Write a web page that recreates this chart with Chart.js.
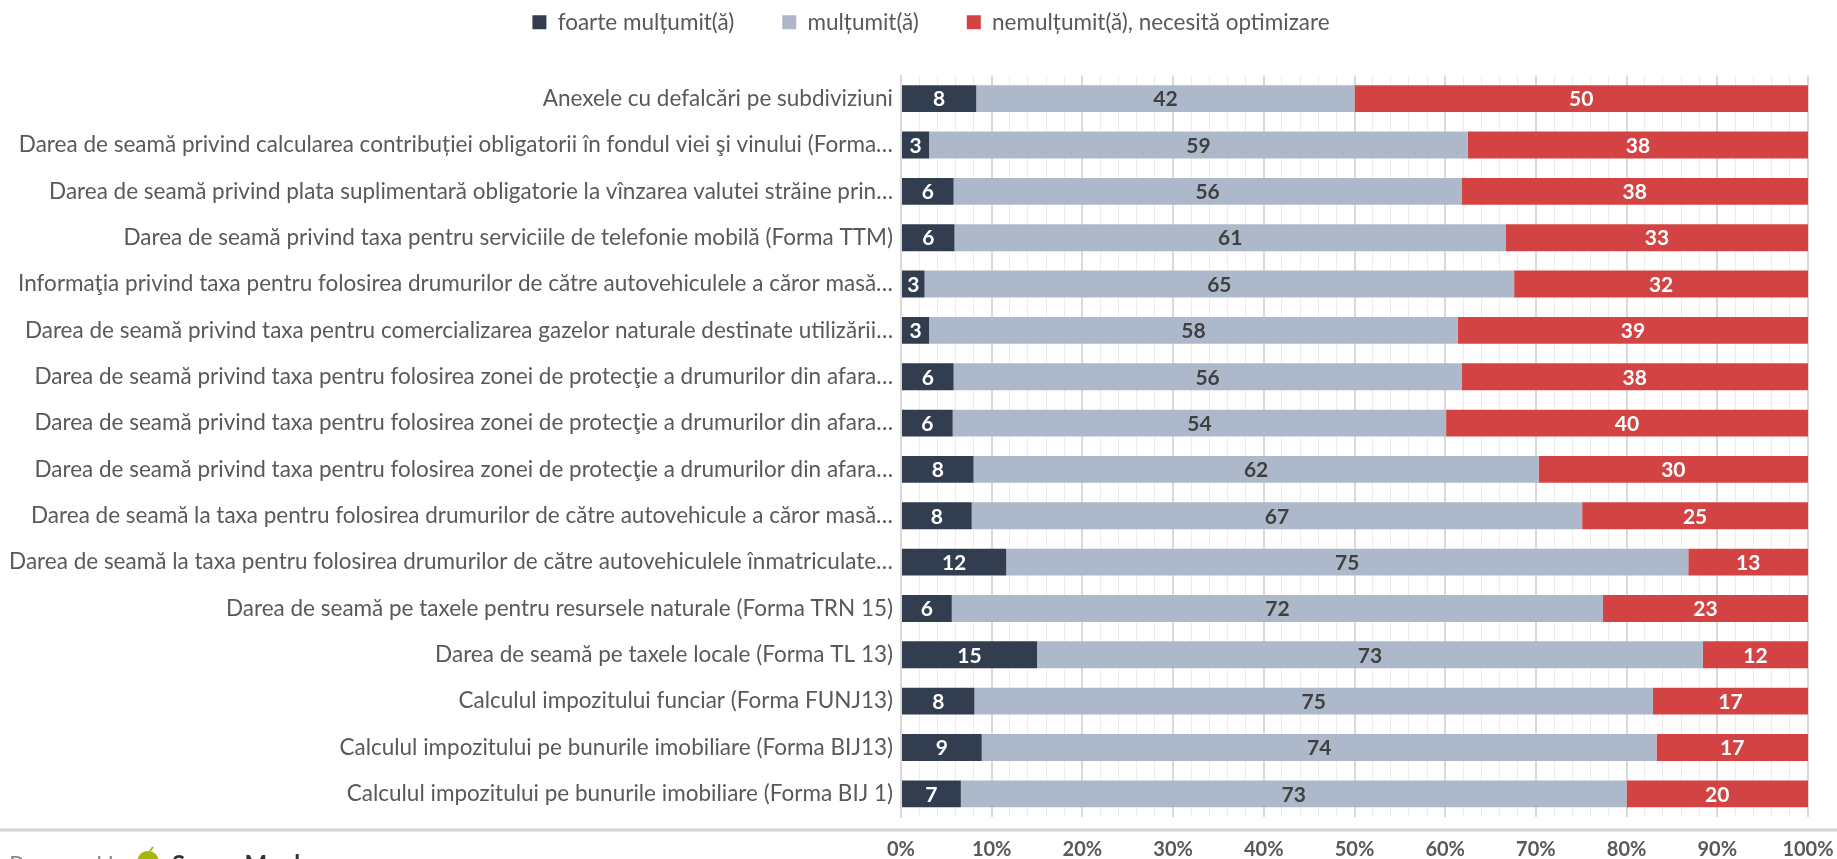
<!DOCTYPE html>
<html>
<head>
<meta charset="utf-8">
<script src="https://cdn.jsdelivr.net/npm/chart.js@4.4.1/dist/chart.umd.min.js"></script>
<style>
    html, body { margin: 0; padding: 0; background: #ffffff; }
    #wrap { position: relative; width: 1837px; height: 859px; }
</style>
</head>
<body>
<div id="wrap"><canvas id="surveyChart" width="1837" height="859"></canvas></div>
<script>
// Survey satisfaction per form (percent of respondents)
const categories = [
    'Anexele cu defalcări pe subdiviziuni',
    'Darea de seamă privind calcularea contribuției obligatorii în fondul viei şi vinului (Forma…',
    'Darea de seamă privind plata suplimentară obligatorie la vînzarea valutei străine prin…',
    'Darea de seamă privind taxa pentru serviciile de telefonie mobilă (Forma TTM)',
    'Informaţia privind taxa pentru folosirea drumurilor de către autovehiculele a căror masă…',
    'Darea de seamă privind taxa pentru comercializarea gazelor naturale destinate utilizării…',
    'Darea de seamă privind taxa pentru folosirea zonei de protecţie a drumurilor din afara…',
    'Darea de seamă privind taxa pentru folosirea zonei de protecţie a drumurilor din afara…',
    'Darea de seamă privind taxa pentru folosirea zonei de protecţie a drumurilor din afara…',
    'Darea de seamă la taxa pentru folosirea drumurilor de către autovehicule a căror masă…',
    'Darea de seamă la taxa pentru folosirea drumurilor de către autovehiculele înmatriculate…',
    'Darea de seamă pe taxele pentru resursele naturale (Forma TRN 15)',
    'Darea de seamă pe taxele locale (Forma TL 13)',
    'Calculul impozitului funciar (Forma FUNJ13)',
    'Calculul impozitului pe bunurile imobiliare (Forma BIJ13)',
    'Calculul impozitului pe bunurile imobiliare (Forma BIJ 1)'
];

const seriesNames = ['foarte mulțumit(ă)', 'mulțumit(ă)', 'nemulțumit(ă), necesită optimizare'];

const veryHappy = [8.3, 3.1, 5.8, 5.9, 2.6, 3.1, 5.8, 5.7, 8.0, 7.8, 11.6, 5.6, 15.0, 8.1, 8.9, 6.6];
const happy     = [41.7, 59.4, 56.0, 60.8, 65.0, 58.3, 56.0, 54.4, 62.3, 67.3, 75.2, 71.8, 73.4, 74.8, 74.4, 73.4];
const unhappy   = [50.0, 37.5, 38.2, 33.3, 32.4, 38.6, 38.2, 39.9, 29.7, 24.9, 13.2, 22.6, 11.6, 17.1, 16.7, 20.0];

const tickValues = [0, 10, 20, 30, 40, 50, 60, 70, 80, 90, 100];

const FONT = 'Lato, "Open Sans", sans-serif';
const colors = ['#323E50', '#ADB9CA', '#D44343'];
const labelColors = ['#ffffff', '#404040', '#ffffff'];

// value labels centred in each segment
const barLabels = {
    id: 'barLabels',
    afterDatasetsDraw(chart) {
        const ctx = chart.ctx;
        ctx.save();
        ctx.font = 'bold 21px ' + FONT;
        ctx.textAlign = 'center';
        ctx.textBaseline = 'middle';
        chart.data.datasets.forEach((ds, di) => {
            const meta = chart.getDatasetMeta(di);
            ctx.fillStyle = labelColors[di];
            meta.data.forEach((bar, i) => {
                const v = ds.data[i];
                if (!v) return;
                ctx.fillText(String(Math.round(v)), (bar.x + bar.base) / 2, bar.y + 1);
            });
        });
        ctx.restore();
    }
};

// extra room under the legend, legend nudged right
const legendSpace = {
    id: 'legendSpace',
    beforeInit(chart) {
        const fit = chart.legend.fit;
        chart.legend.fit = function() {
            fit.bind(chart.legend)();
            this.height += 32;
        };
    },
    afterLayout(chart) {
        chart.legend.left += 54;
    }
};

// separator line above the axis labels + footer text
const footer = {
    id: 'footer',
    afterDraw(chart) {
        const ctx = chart.ctx;
        const y = chart.chartArea.bottom + 13;
        ctx.save();
        ctx.strokeStyle = '#d4d4d4';
        ctx.lineWidth = 3;
        ctx.beginPath();
        ctx.moveTo(0, y);
        ctx.lineTo(chart.width, y);
        ctx.stroke();

        ctx.textBaseline = 'top';
        ctx.textAlign = 'left';
        ctx.font = '24px ' + FONT;
        ctx.fillStyle = '#8a8a8a';
        ctx.fillText('Powered by', 9, y + 23);
        ctx.fillStyle = '#a5b60f';
        ctx.beginPath();
        ctx.arc(148, y + 32, 11, 0, Math.PI * 2);
        ctx.fill();
        ctx.beginPath();
        ctx.moveTo(150, y + 21);
        ctx.lineTo(153, y + 17);
        ctx.lineWidth = 2;
        ctx.strokeStyle = '#a5b60f';
        ctx.stroke();
        ctx.font = 'bold 24px ' + FONT;
        ctx.fillStyle = '#333333';
        ctx.fillText('SurveyMonkey', 172, y + 23);
        ctx.restore();
    }
};

const ctx = document.getElementById('surveyChart').getContext('2d');
new Chart(ctx, {
    type: 'bar',
    data: {
        labels: categories,
        datasets: [veryHappy, happy, unhappy].map((vals, i) => ({
            label: seriesNames[i],
            data: vals,
            backgroundColor: colors[i],
            borderWidth: 0,
            categoryPercentage: 1,
            barPercentage: 0.58
        }))
    },
    options: {
        indexAxis: 'y',
        responsive: false,
        animation: false,
        layout: {
            padding: { top: -37, right: 29, bottom: 0, left: 0 }
        },
        plugins: {
            tooltip: { enabled: false },
            legend: {
                position: 'top',
                labels: {
                    boxWidth: 14,
                    boxHeight: 14,
                    padding: 48,
                    color: '#595959',
                    font: { family: FONT, size: 22.5 }
                }
            }
        },
        scales: {
            x: {
                stacked: true,
                min: 0,
                max: 100,
                afterFit(scale) {
                    scale.height = 42;
                    scale.paddingLeft = 0;
                    scale.paddingRight = 0;
                },
                ticks: {
                    stepSize: 2,
                    autoSkip: false,
                    maxRotation: 0,
                    padding: 21,
                    color: '#595959',
                    font: { family: FONT, size: 20, weight: 'bold' },
                    callback: v => tickValues.includes(v) ? v + '%' : ''
                },
                grid: {
                    drawTicks: false,
                    color: c => (c.tick && c.tick.value % 10 === 0) ? '#d9d9d9' : '#ececec',
                    lineWidth: c => (c.tick && c.tick.value % 10 === 0) ? 2 : 1
                },
                border: { display: false }
            },
            y: {
                stacked: true,
                afterFit(scale) { scale.width = 901; },
                ticks: {
                    padding: 8,
                    color: '#595959',
                    font: { family: FONT, size: 22.5 }
                },
                grid: { display: false, drawTicks: false },
                border: { display: true, color: '#d9d9d9', width: 2 }
            }
        }
    },
    plugins: [legendSpace, barLabels, footer]
});
</script>
</body>
</html>
